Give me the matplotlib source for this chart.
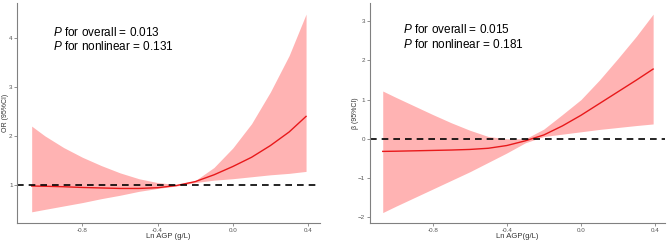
import matplotlib
matplotlib.use("Agg")
import matplotlib.pyplot as plt

plt.rcParams["font.family"] = ["Liberation Sans", "DejaVu Sans"]

# values
ln_agp = [-1.07, -1.0, -0.9, -0.8, -0.7, -0.6, -0.5, -0.4, -0.3, -0.2, -0.1, 0.0, 0.1, 0.2, 0.3, 0.39]

or_fit = [0.97, 0.965, 0.955, 0.94, 0.93, 0.92, 0.92, 0.935, 0.98, 1.06, 1.2, 1.37, 1.56, 1.8, 2.08, 2.4]
or_upper = [2.2, 2.0, 1.76, 1.56, 1.39, 1.24, 1.12, 1.04, 1.0, 1.08, 1.35, 1.75, 2.25, 2.9, 3.65, 4.5]
or_lower = [0.44, 0.49, 0.56, 0.63, 0.71, 0.78, 0.86, 0.92, 0.97, 1.04, 1.09, 1.12, 1.16, 1.2, 1.23, 1.27]

beta_fit = [-0.32, -0.315, -0.305, -0.295, -0.285, -0.27, -0.24, -0.17, -0.05, 0.1, 0.33, 0.6, 0.9, 1.2, 1.5, 1.78]
beta_upper = [1.22, 1.06, 0.84, 0.62, 0.41, 0.22, 0.06, 0.0, 0.0, 0.25, 0.62, 1.0, 1.5, 2.05, 2.62, 3.18]
beta_lower = [-1.88, -1.72, -1.5, -1.28, -1.06, -0.84, -0.6, -0.36, -0.1, 0.06, 0.12, 0.18, 0.24, 0.29, 0.34, 0.38]

x_ticks = [-0.8, -0.4, 0.0, 0.4]
x_tick_labels = ["-0.8", "-0.4", "0.0", "0.4"]
or_ticks = [1, 2, 3, 4]
beta_ticks = [-2, -1, 0, 1, 2, 3]

FILL = "#FFB3B3"
LINE = "#E8191B"
GREY = "#808080"


def style_axes(ax):
    for side in ("top", "right"):
        ax.spines[side].set_visible(False)
    for side in ("left", "bottom"):
        ax.spines[side].set_color(GREY)
        ax.spines[side].set_linewidth(0.8)
    ax.tick_params(colors=GREY, labelcolor="#555555", labelsize=4.5, length=2, width=0.6, pad=1.5)
    ax.set_xticks(x_ticks)
    ax.set_xticklabels(x_tick_labels)


def draw_panel(ax, fit, lower, upper, ref, p_overall, p_nonlin, text_x, text_y):
    ax.fill_between(ln_agp, lower, upper, color=FILL, linewidth=0)
    ax.plot(ln_agp, fit, color=LINE, linewidth=1.0)
    ax.axhline(ref, color="black", linestyle=(0, (4, 3)), linewidth=1.2)
    style_axes(ax)
    ax.text(text_x, text_y[0], "$\\it{P}$ for overall = " + p_overall,
            transform=ax.transAxes, fontsize=8.5, va="baseline")
    ax.text(text_x, text_y[1], "$\\it{P}$ for nonlinear = " + p_nonlin,
            transform=ax.transAxes, fontsize=8.5, va="baseline")


plt.rcParams["mathtext.fontset"] = "custom"
plt.rcParams["mathtext.it"] = "Liberation Sans:italic"
plt.rcParams["mathtext.rm"] = "Liberation Sans"

fig = plt.figure(figsize=(6.69, 2.44), dpi=100)
ax1 = fig.add_axes([0.026, 0.086, 0.452, 0.902])
ax2 = fig.add_axes([0.553, 0.087, 0.441, 0.90])

draw_panel(ax1, or_fit, or_lower, or_upper, 1, "0.013", "0.131", 0.117, (0.85, 0.786))
ax1.set_xlim(-1.146, 0.463)
ax1.set_ylim(0.21, 4.73)
ax1.set_yticks(or_ticks)

draw_panel(ax2, beta_fit, beta_lower, beta_upper, 0, "0.015", "0.181", 0.112, (0.863, 0.795))
ax2.set_xlim(-1.139, 0.454)
ax2.set_ylim(-2.14, 3.46)
ax2.set_yticks(beta_ticks)

# axis titles placed by hand, the panels are packed tight
fig.text(6 / 669, 0.537, "OR (95%CI)", rotation=90, ha="center", va="center", fontsize=5, color="#333333")
fig.text(0.252, 0.029, "Ln AGP (g/L)", ha="center", va="center", fontsize=5.5, color="#333333")
fig.text(355.5 / 669, 0.537, "β (95%CI)", rotation=90, ha="center", va="center", fontsize=5, color="#333333")
fig.text(0.7735, 0.029, "Ln AGP(g/L)", ha="center", va="center", fontsize=5.5, color="#333333")

fig.savefig("out.png", dpi=100)
